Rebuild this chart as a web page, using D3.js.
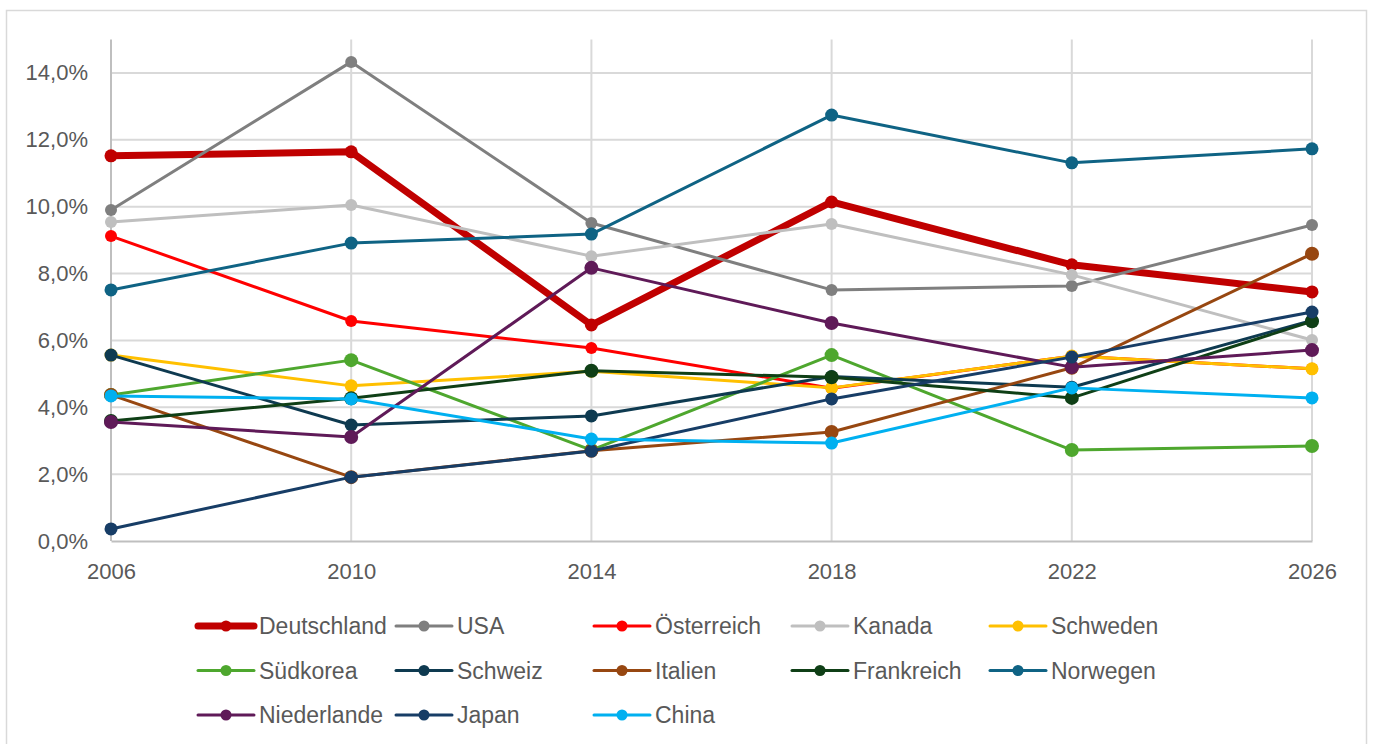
<!DOCTYPE html>
<html>
<head>
<meta charset="utf-8">
<script src="https://cdn.jsdelivr.net/npm/d3@7"></script>
<style>
  html, body { margin: 0; padding: 0; background: #fff; }
  svg { display: block; }
  text { font-family: "Liberation Sans", Arial, sans-serif; fill: #595959; }
</style>
</head>
<body>
<script>
// ---------- data ----------
const years = [2006, 2010, 2014, 2018, 2022, 2026];
const yTicks = [0, 2, 4, 6, 8, 10, 12, 14];
const countries = ["Deutschland", "USA", "Österreich", "Kanada", "Schweden",
  "Südkorea", "Schweiz", "Italien", "Frankreich", "Norwegen",
  "Niederlande", "Japan", "China"];

const deutschland = [11.52, 11.64, 6.46, 10.14, 8.26, 7.45];
const usa         = [9.90, 14.33, 9.51, 7.51, 7.63, 9.45];
const oesterreich = [9.12, 6.58, 5.77, 4.57, 5.53, 5.15];
const kanada      = [9.54, 10.05, 8.52, 9.48, 7.96, 6.01];
const schweden    = [5.56, 4.64, 5.08, 4.58, 5.53, 5.15];
const suedkorea   = [4.37, 5.41, 2.72, 5.56, 2.72, 2.84];
const schweiz     = [5.56, 3.47, 3.74, 4.92, 4.60, 6.60];
const italien     = [4.37, 1.91, 2.70, 3.26, 5.18, 8.59];
const frankreich  = [3.59, 4.27, 5.09, 4.90, 4.28, 6.57];
const norwegen    = [7.51, 8.91, 9.18, 12.74, 11.31, 11.73];
const niederlande = [3.56, 3.11, 8.17, 6.52, 5.20, 5.71];
const japan       = [0.36, 1.91, 2.69, 4.25, 5.50, 6.85];
const china       = [4.34, 4.25, 3.05, 2.93, 4.58, 4.28];

const seriesValues = [deutschland, usa, oesterreich, kanada, schweden,
  suedkorea, schweiz, italien, frankreich, norwegen, niederlande, japan, china];

// ---------- styles ----------
const colors = ["#C00000", "#7F7F7F", "#FF0000", "#BFBFBF", "#FFC000",
  "#4EA72E", "#0E3A50", "#974711", "#0F3F16", "#0F6384",
  "#5F1A58", "#173D66", "#00B0F0"];
const lineWidths = [7, 3, 3, 3, 3, 3, 3, 3, 3, 3, 3, 3, 3];
const markerR = [6.5, 6, 6, 6, 6.5, 7, 6.5, 7, 7, 6.5, 7, 6.5, 6.5];

const W = 1373, H = 744;
const svg = d3.select("body").append("svg").attr("width", W).attr("height", H);

// outer chart border
svg.append("rect").attr("x", 6.5).attr("y", 10.5).attr("width", 1360).attr("height", 745)
  .attr("fill", "#fff").attr("stroke", "#D9D9D9").attr("stroke-width", 1.5);

const x = d3.scaleLinear().domain([2006, 2026]).range([111, 1312]);
const y = d3.scaleLinear().domain([0, 15]).range([541, 39.5]);

// horizontal gridlines
svg.append("g").selectAll("line").data(yTicks.filter(d => d > 0)).join("line")
  .attr("x1", x(2006)).attr("x2", x(2026))
  .attr("y1", d => y(d)).attr("y2", d => y(d))
  .attr("stroke", "#D9D9D9").attr("stroke-width", 2);

// vertical gridlines
svg.append("g").selectAll("line").data(years.slice(1)).join("line")
  .attr("x1", d => x(d)).attr("x2", d => x(d))
  .attr("y1", y(15)).attr("y2", y(0))
  .attr("stroke", "#D9D9D9").attr("stroke-width", 2);

// axes
const fmt = d => d.toFixed(1).replace(".", ",") + "%";
const yAxis = svg.append("g").attr("transform", `translate(${x(2006)},0)`)
  .call(d3.axisLeft(y).tickValues(yTicks).tickFormat(fmt).tickSize(0).tickPadding(23));
yAxis.select(".domain").attr("stroke", "#BFBFBF").attr("stroke-width", 2)
  .attr("d", `M0,${y(15)}V${y(0)}`);
yAxis.selectAll("text").style("font-size", "22px").attr("fill", "#595959");

const xAxis = svg.append("g").attr("transform", `translate(0,${y(0)})`)
  .call(d3.axisBottom(x).tickValues(years).tickFormat(d3.format("d")).tickSize(0).tickPadding(22));
xAxis.select(".domain").attr("stroke", "#BFBFBF").attr("stroke-width", 2);
xAxis.selectAll("text").style("font-size", "22px").attr("fill", "#595959");

// series
const line = d3.line().x((d, i) => x(years[i])).y(d => y(d));
seriesValues.forEach((vals, k) => {
  const g = svg.append("g");
  g.append("path").attr("d", line(vals)).attr("fill", "none")
    .attr("stroke", colors[k]).attr("stroke-width", lineWidths[k])
    .attr("stroke-linejoin", "round").attr("stroke-linecap", "round");
  g.selectAll("circle").data(vals).join("circle")
    .attr("cx", (d, i) => x(years[i])).attr("cy", d => y(d))
    .attr("r", markerR[k]).attr("fill", colors[k]);
});

// legend
const legCol = d3.scaleLinear().domain([0, 1]).range([198, 396]);
const legRow = d3.scaleLinear().domain([0, 1]).range([626, 670.5]);
countries.forEach((name, k) => {
  const c = k % 5, r = Math.floor(k / 5);
  const g = svg.append("g").attr("transform", `translate(${legCol(c)},${legRow(r)})`);
  g.append("line").attr("x1", 0).attr("x2", 56).attr("y1", 0).attr("y2", 0)
    .attr("stroke", colors[k]).attr("stroke-width", lineWidths[k])
    .attr("stroke-linecap", "round");
  g.append("circle").attr("cx", 28).attr("cy", 0).attr("r", 5.5).attr("fill", colors[k]);
  g.append("text").attr("x", 61).attr("y", 0).attr("dy", "0.36em")
    .style("font-size", "23px").text(name);
});
</script>
</body>
</html>
